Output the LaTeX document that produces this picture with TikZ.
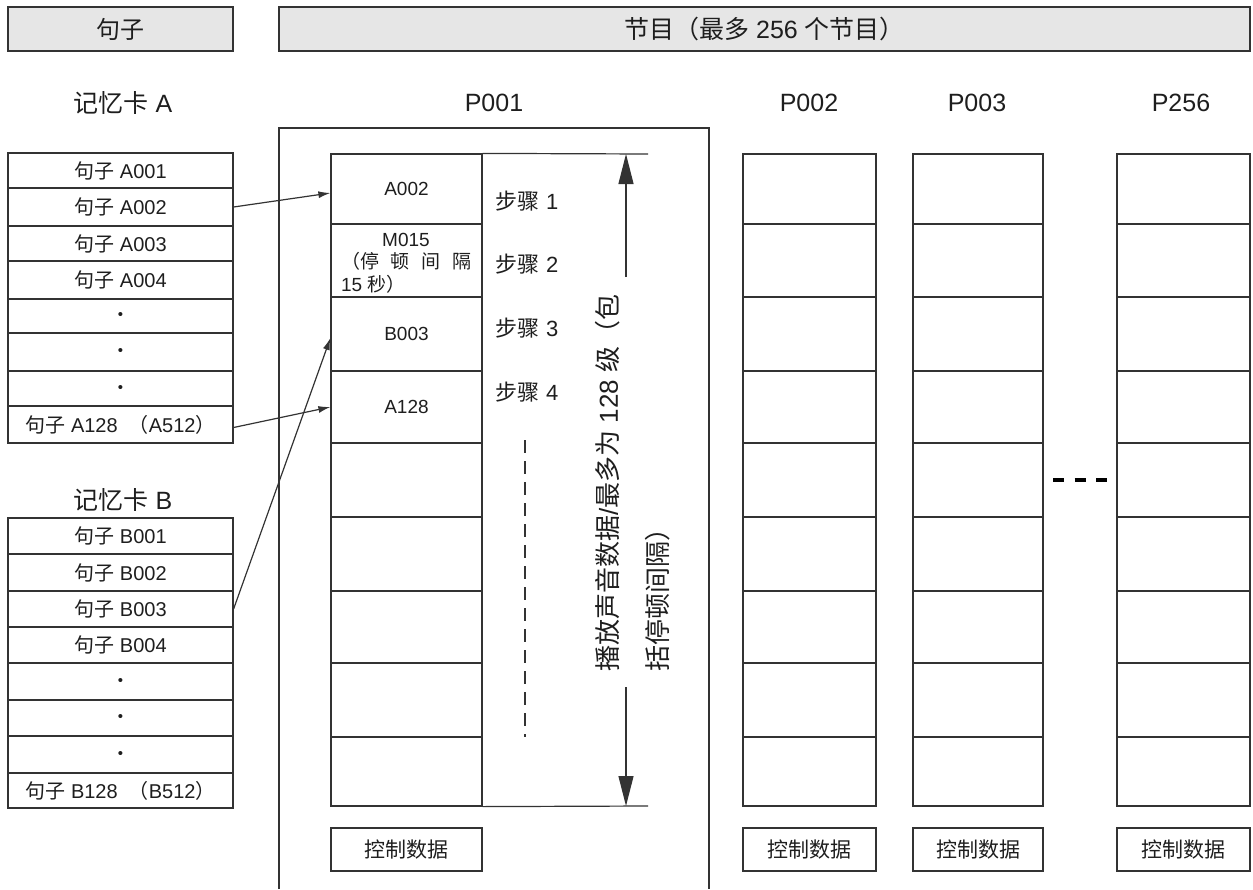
\documentclass[tikz,border=0pt]{standalone}
\usepackage{fontspec}
\setmainfont{Liberation Sans}
\newfontfamily\cjk{Noto Sans CJK SC}
\usetikzlibrary{arrows.meta}
\newcommand\zh[1]{{\cjk #1}}
\newcommand\dotmark{{\fontsize{15}{15}\selectfont •}}
\definecolor{lc}{HTML}{333333}
\definecolor{hdrgray}{HTML}{E6E6E6}
\definecolor{tc}{HTML}{1E1E1E}
\begin{document}
\begin{tikzpicture}[x=1pt,y=-1pt, line width=1.2pt, draw=lc,
  every node/.style={text=tc},
  hdr/.style={draw=lc, fill=hdrgray, inner sep=0pt, minimum height=44pt, font=\fontsize{24}{28}\selectfont},
  crow/.style={draw=lc, inner sep=0pt, minimum width=225pt, font=\fontsize{20}{24}\selectfont},
  cell/.style={draw=lc, inner sep=0pt, font=\fontsize{19}{22}\selectfont},
  celltext/.style={inner sep=0pt, font=\fontsize{19}{22.5}\selectfont},
  ctrl/.style={draw=lc, inner sep=0pt, minimum height=43pt, font=\fontsize{21}{24}\selectfont},
  ttl/.style={font=\fontsize{25}{28}\selectfont},
  steplbl/.style={anchor=west, font=\fontsize{22}{24}\selectfont},
  link/.style={line width=1.2pt, -{Latex[length=12pt,width=7pt]}},
  bigarrow/.style={line width=1.2pt, -{Triangle[length=30pt,width=15pt]}}
]
\useasboundingbox (0,0) rectangle (1253,889);

% headers
\node[hdr, minimum width=225pt] (h1) at (120.5,29) {\zh{句子}};
\node[hdr, minimum width=971pt, font=\fontsize{25}{28}\selectfont] (h2) at (764.5,29) {\zh{节目（最多} 256 \zh{个节目）}};

% titles
\node[ttl] (ta) at (123,103) {\zh{记忆卡} A};
\node[ttl] (tb) at (123,500) {\zh{记忆卡} B};
\node[ttl] (l1) at (494,103) {P001};
\node[ttl] (l2) at (809,103) {P002};
\node[ttl] (l3) at (977,103) {P003};
\node[ttl] (l4) at (1181,103) {P256};

% memory card A
\foreach \i/\t/\b/\txt in {
  1/153/188/{\zh{句子} A001},
  2/188/226/{\zh{句子} A002},
  3/226/261/{\zh{句子} A003},
  4/261/299/{\zh{句子} A004},
  5/299/333/{\dotmark},
  6/333/371/{\dotmark},
  7/371/406/{\dotmark},
  8/406/443/{\zh{句子} A128\ \ \zh{（}A512\zh{）}}} {
  \node[crow, minimum height={\b-\t}] (a\i) at (120.5,{(\t+\b)/2}) {\txt};
}
% memory card B
\foreach \i/\t/\b/\txt in {
  1/518/554/{\zh{句子} B001},
  2/554/591/{\zh{句子} B002},
  3/591/627/{\zh{句子} B003},
  4/627/663/{\zh{句子} B004},
  5/663/700/{\dotmark},
  6/700/736/{\dotmark},
  7/736/773/{\dotmark},
  8/773/808/{\zh{句子} B128\ \ \zh{（}B512\zh{）}}} {
  \node[crow, minimum height={\b-\t}] (b\i) at (120.5,{(\t+\b)/2}) {\txt};
}

% P001 outer frame
\coordinate (f1) at (279,889);
\coordinate (f2) at (709,889);
\draw (f1) |- (709,128) -- (f2);

% P001 cells
\foreach \i/\t/\b/\txt in {
  1/154/224/{A002},
  2/224/297/{},
  3/297/371/{B003},
  4/371/443/{A128},
  5/443/517/{},
  6/517/591/{},
  7/591/663/{},
  8/663/737/{},
  9/737/806/{}} {
  \node[cell, minimum width=151pt, minimum height={\b-\t}] (p\i) at (406.5,{(\t+\b)/2}) {\txt};
}
\node[celltext, align=left] (m15) at (406,263)
  {\makebox[130pt][c]{M015}\\\makebox[130pt][s]{\zh{（停 顿 间 隔}}\\\makebox[130pt][l]{15 \zh{秒）}}};

% other programme columns
\foreach \col/\xl/\xr in {q/743/876, r/913/1043, z/1117/1250} {
  \foreach \i/\t/\b in {1/154/224, 2/224/297, 3/297/371, 4/371/443, 5/443/517, 6/517/591, 7/591/663, 8/663/737, 9/737/806} {
    \node[cell, minimum width={\xr-\xl}, minimum height={\b-\t}] (\col\i) at ({(\xl+\xr)/2},{(\t+\b)/2}) {};
  }
  \node[ctrl, minimum width={\xr-\xl}] (\col c) at ({(\xl+\xr)/2},849.5) {\zh{控制数据}};
}
\node[ctrl, minimum width=151pt] (pc) at (406.5,849.5) {\zh{控制数据}};

% steps
\node[steplbl] (s1) at (492,201) {\zh{步骤} 1};
\node[steplbl] (s2) at (492,264) {\zh{步骤} 2};
\node[steplbl] (s3) at (492,328) {\zh{步骤} 3};
\node[steplbl] (s4) at (492,392) {\zh{步骤} 4};
\coordinate (d1) at (525,440);
\coordinate (d2) at (525,737);
\draw[line width=1.2pt, dash pattern=on 13pt off 8pt] (d1) -- (d2);

% extent lines and arrows
\coordinate (et) at (648,154);
\coordinate (eb) at (648,806);
\draw (p1.north east) -- (et);
\draw (p9.south east) -- (eb);
\coordinate (vt) at (626,154);
\coordinate (vt1) at (626,277);
\coordinate (vb) at (626,806);
\coordinate (vb1) at (626,687);
\draw[bigarrow] (vt1) -- (vt);
\draw[bigarrow] (vb1) -- (vb);
\node[rotate=90, align=left, font=\fontsize{26}{50}\selectfont] (vtext) at (633,483)
  {\zh{播放声音数据}/\zh{最多为}\ 128\ \zh{级（包}\\\zh{括停顿间隔）}};

% links
\draw[link] (a2.east) -- ([yshift=-4pt]p1.west);
\draw[link] ([yshift=-3pt]a8.east) -- (p4.west);
\draw[link] (b3.east) -- ([yshift=-4pt]p3.west);

% ellipsis
\coordinate (e1) at (1053,480);
\coordinate (e2) at (1107,480);
\draw[line width=3.5pt, draw=black, dash pattern=on 11pt off 10.5pt] (e1) -- (e2);
\end{tikzpicture}
\end{document}
